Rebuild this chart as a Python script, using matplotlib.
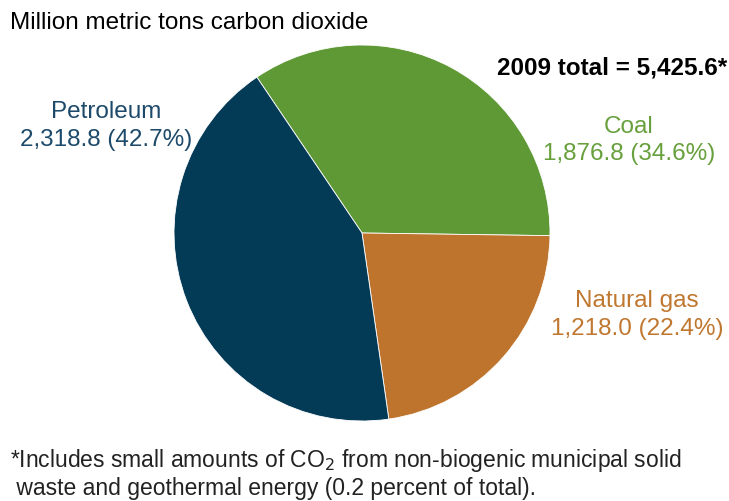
import matplotlib
matplotlib.use('Agg')
import matplotlib.pyplot as plt

# data (million metric tons CO2, 2009)
sources = ['Coal', 'Natural gas', 'Petroleum']
values = [1876.8, 1218.0, 2318.8]
shares = [34.6, 22.4, 42.7]
total = 5425.6

slice_colors = ['#5f9935', '#be742c', '#033a56']
text_colors = ['#67a03c', '#c0772f', '#1d4a6a']

W, H = 729, 502
fig = plt.figure(figsize=(W / 100, H / 100), dpi=100)
plt.rcParams['font.family'] = ['Liberation Sans', 'DejaVu Sans']

# pie centre and radius in pixels
cx, cy, r = 362, 234, 188
ax = fig.add_axes([(cx - r) / W, (H - cy - r) / H, 2 * r / W, 2 * r / H])
ax.pie(values, colors=slice_colors, startangle=124, counterclock=False,
       radius=1, wedgeprops=dict(edgecolor='white', linewidth=0.6))
ax.set_xlim(-1, 1)
ax.set_ylim(-1, 1)
ax.set_aspect('equal')
ax.axis('off')


def px(x, y):
    return x / W, 1 - y / H


fs = 17.5
fig.text(*px(10, 29), 'Million metric tons carbon dioxide', fontsize=fs,
         va='baseline', ha='left', color='black')
fig.text(*px(727, 74), '2009 total = {:,.1f}*'.format(total), fontsize=fs,
         fontweight='bold', va='baseline', ha='right', color='black')

# label centre x, first baseline, second baseline
label_pos = {'Coal': (629, 133, 160), 'Natural gas': (637, 307, 335),
             'Petroleum': (106, 118, 146)}
for name, v, s, c in zip(sources, values, shares, text_colors):
    x, y1, y2 = label_pos[name]
    fig.text(*px(x, y1), name, fontsize=fs, ha='center', va='baseline', color=c)
    fig.text(*px(x, y2), '{:,.1f} ({:.1f}%)'.format(v, s), fontsize=fs,
             ha='center', va='baseline', color=c)

fig.text(*px(10, 467), '*Includes small amounts of CO$_2$ from non-biogenic municipal solid',
         fontsize=16.5, ha='left', va='baseline', color='#222222')
fig.text(*px(10, 495), ' waste and geothermal energy (0.2 percent of total).',
         fontsize=16.5, ha='left', va='baseline', color='#222222')

fig.savefig('out.png', dpi=100)
